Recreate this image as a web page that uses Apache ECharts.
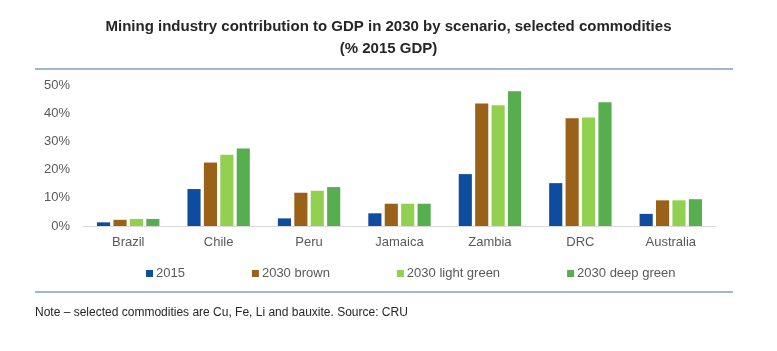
<!DOCTYPE html>
<html>
<head>
<meta charset="utf-8">
<script src="https://cdn.jsdelivr.net/npm/echarts@6/dist/echarts.min.js"></script>
<style>
  html, body { margin: 0; padding: 0; background: #fff; }
  #chart { width: 777px; height: 351px; }
</style>
</head>
<body>
<div id="chart"></div>
<script>
const countries = ["Brazil", "Chile", "Peru", "Jamaica", "Zambia", "DRC", "Australia"];
const seriesNames = ["2015", "2030 brown", "2030 light green", "2030 deep green"];
const values2015 = [1.3, 13.1, 2.7, 4.5, 18.4, 15.2, 4.3];
const valuesBrown = [2.2, 22.5, 11.8, 7.9, 43.4, 38.2, 9.1];
const valuesLight = [2.5, 25.3, 12.5, 7.9, 42.8, 38.5, 9.1];
const valuesDeep = [2.5, 27.5, 13.8, 7.9, 47.8, 43.9, 9.5];
const seriesColors = ["#0d4c9e", "#9a6219", "#92d050", "#56ae4f"];
const yTicks = [0, 10, 20, 30, 40, 50];

const fontFamily = "'Liberation Sans', Arial, sans-serif";
const allValues = [values2015, valuesBrown, valuesLight, valuesDeep];

const chart = echarts.init(document.getElementById("chart"), null, { renderer: "canvas" });

chart.setOption({
  animation: false,
  textStyle: { fontFamily },
  title: {
    text: "Mining industry contribution to GDP in 2030 by scenario, selected commodities\n(% 2015 GDP)",
    left: "center",
    top: 11,
    textStyle: { fontSize: 15, fontWeight: "bold", color: "#262626", lineHeight: 22, fontFamily },
  },
  grid: { left: 83, right: 61, top: 85, bottom: 125 },
  legend: {
    left: 141,
    top: 262,
    itemWidth: 7,
    itemHeight: 7,
    itemGap: 67,
    icon: "rect",
    textStyle: { color: "#595959", fontSize: 13, padding: [0, 0, 0, -2] },
    data: seriesNames,
  },
  xAxis: {
    type: "category",
    data: countries,
    axisTick: { show: false },
    axisLine: { lineStyle: { color: "#d9d9d9", width: 1 } },
    axisLabel: { color: "#595959", fontSize: 13, margin: 10 },
  },
  yAxis: {
    type: "value",
    min: yTicks[0],
    max: yTicks[yTicks.length - 1],
    interval: 10,
    splitLine: { show: false },
    axisLine: { show: false },
    axisTick: { show: false },
    axisLabel: { color: "#595959", fontSize: 13, margin: 13, formatter: (v) => v + "%" },
  },
  graphic: [
    { type: "line", shape: { x1: 35, y1: 69, x2: 733, y2: 69 }, style: { stroke: "#7f9fc2", lineWidth: 1.5 } },
    { type: "line", shape: { x1: 35, y1: 292, x2: 733, y2: 292 }, style: { stroke: "#7f9fc2", lineWidth: 1.5 } },
    {
      type: "text",
      left: 35,
      top: 307,
      style: { text: "Note – selected commodities are Cu, Fe, Li and bauxite. Source: CRU", fill: "#262626", fontSize: 12, fontFamily },
    },
  ],
  series: seriesNames.map((name, i) => ({
    name,
    type: "bar",
    data: allValues[i],
    barGap: "25%",
    barCategoryGap: "31%",
    itemStyle: { color: seriesColors[i] },
  })),
});
</script>
</body>
</html>
